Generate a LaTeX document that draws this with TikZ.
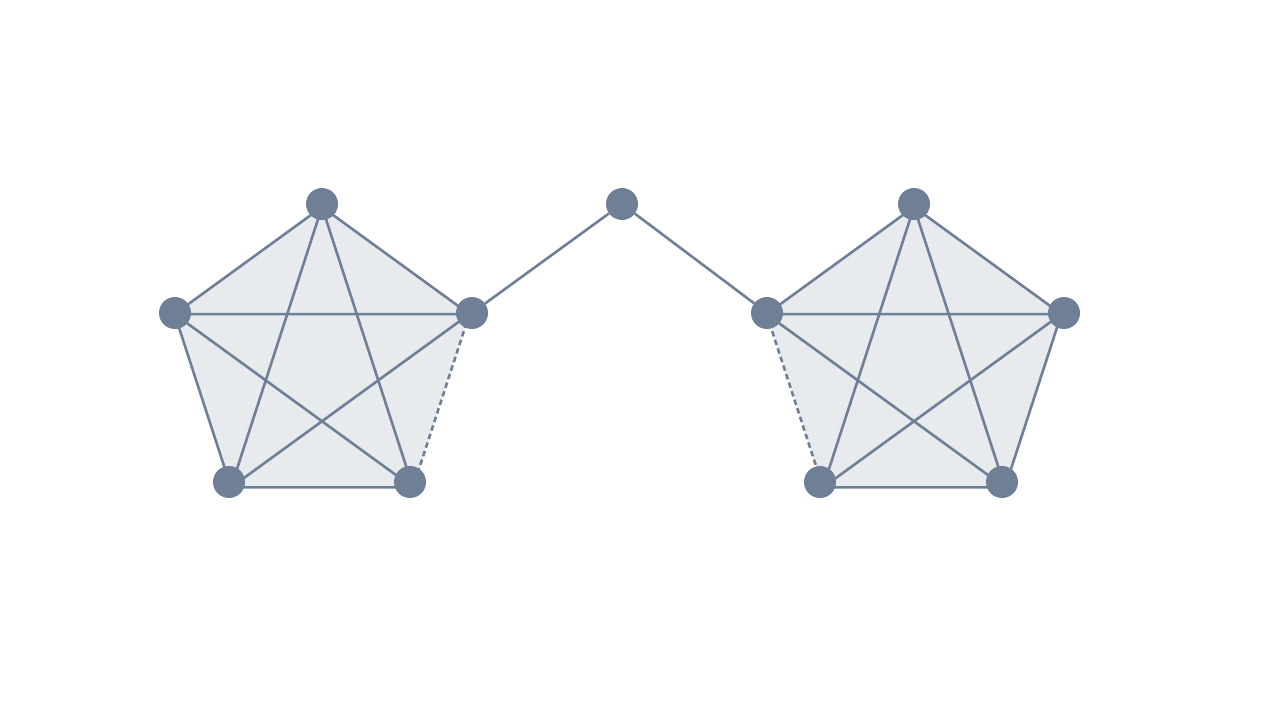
\documentclass[tikz,border=0pt]{standalone}
\definecolor{nodecol}{HTML}{6E7F96}
\definecolor{edgecol}{HTML}{6E7F96}
\definecolor{fillcol}{HTML}{E8EBEE}
\tikzset{
  vert/.style={circle,fill=nodecol,draw=none,minimum size=32pt,inner sep=0pt},
  edge/.style={draw=edgecol,line width=2.6pt},
  dashedge/.style={draw=edgecol,line width=2.6pt,dash pattern=on 5.5pt off 3.5pt},
  region/.style={fill=fillcol,draw=none}
}
\begin{document}
\begin{tikzpicture}[x=1pt,y=-1pt]
\useasboundingbox (0,0) rectangle (1270,714);
% left pentagon vertices (center 322,362; R=155)
\coordinate (La) at (322,207);
\coordinate (Lb) at (174.6,314.1);
\coordinate (Lc) at (469.4,314.1);
\coordinate (Ld) at (231,487.4);
\coordinate (Le) at (413,487.4);
% right pentagon vertices (center 914,362)
\coordinate (Ra) at (914,207);
\coordinate (Rb) at (766.6,314.1);
\coordinate (Rc) at (1061.4,314.1);
\coordinate (Rd) at (823,487.4);
\coordinate (Re) at (1005,487.4);
\fill[region] (La) -- (Lc) -- (Le) -- (Ld) -- (Lb) -- cycle;
\fill[region] (Ra) -- (Rc) -- (Re) -- (Rd) -- (Rb) -- cycle;
% edges
\path[edge] (La) -- (Lb) (La) -- (Lc) (La) -- (Ld) (La) -- (Le)
  (Lb) -- (Lc) (Lb) -- (Le) (Lb) -- (Ld) (Lc) -- (Ld) (Ld) -- (Le);
\path[dashedge] (Lc) -- (Le);
\path[edge] (Ra) -- (Rb) (Ra) -- (Rc) (Ra) -- (Rd) (Ra) -- (Re)
  (Rb) -- (Rc) (Rb) -- (Re) (Rc) -- (Rd) (Rc) -- (Re) (Rd) -- (Re);
\path[dashedge] (Rb) -- (Rd);
% nodes
\node[vert] (l1) at (322,204) {};
\node[vert] (l2) at (175,313) {};
\node[vert] (l3) at (472,313) {};
\node[vert] (l4) at (229,482) {};
\node[vert] (l5) at (410,482) {};
\node[vert] (m) at (622,204) {};
\node[vert] (r1) at (914,204) {};
\node[vert] (r2) at (767,313) {};
\node[vert] (r3) at (1064,313) {};
\node[vert] (r4) at (820,482) {};
\node[vert] (r5) at (1002,482) {};
\path[edge] (l3) -- (m) -- (r2);
\end{tikzpicture}
\end{document}
